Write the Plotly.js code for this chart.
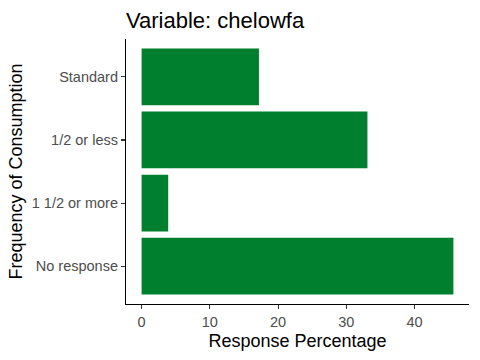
<!DOCTYPE html>
<html>
<head>
<meta charset="utf-8">
<script src="https://cdn.plot.ly/plotly-3.0.1.min.js"></script>
<style>html,body{margin:0;padding:0;background:#fff;}#chart{width:480px;height:360px;}</style>
</head>
<body>
<div id="chart"></div>
<script>
const categories = ["Standard", "1/2 or less", "1 1/2 or more", "No response"];
const percentages = [17.2, 33.1, 3.9, 45.7];
const xTicks = [0, 10, 20, 30, 40];

const FONT = "Liberation Sans, Arial, sans-serif";
const maxVal = Math.max(...percentages);
const pad = maxVal * 0.05;

const trace = {
  type: "bar",
  orientation: "h",
  x: percentages,
  y: categories,
  width: 0.9,
  marker: {color: "#00802F", line: {width: 0}},
  hoverinfo: "x+y"
};

const layout = {
  width: 480, height: 360,
  margin: {l: 126, r: 11, t: 39, b: 56, pad: 0},
  paper_bgcolor: "#ffffff",
  plot_bgcolor: "#ffffff",
  showlegend: false,
  font: {family: FONT, color: "#000"},
  title: {
    text: "Variable: chelowfa",
    font: {family: FONT, size: 22, color: "#000"},
    x: 126/480, xanchor: "left", xref: "container",
    y: 1 - 20/360, yref: "container", yanchor: "middle"
  },
  xaxis: {
    range: [-pad, maxVal + pad],
    tickvals: xTicks,
    ticktext: xTicks.map(String),
    showgrid: false, zeroline: false,
    showline: true, linecolor: "#000", linewidth: 1.1,
    ticks: "outside", ticklen: 4, tickcolor: "#333", tickwidth: 1.1,
    tickfont: {family: FONT, size: 14.5, color: "#4D4D4D"},
    title: {text: "Response Percentage", font: {family: FONT, size: 18, color: "#000"}, standoff: 5},
    fixedrange: true
  },
  yaxis: {
    type: "category",
    categoryorder: "array",
    categoryarray: categories,
    range: [3.6, -0.6],
    showgrid: false, zeroline: false,
    showline: true, linecolor: "#000", linewidth: 1.1,
    ticks: "outside", ticklen: 4, tickcolor: "#333", tickwidth: 1.1,
    tickfont: {family: FONT, size: 14.5, color: "#4D4D4D"},
    title: {text: "Frequency of Consumption", font: {family: FONT, size: 18, color: "#000"}, standoff: 4},
    fixedrange: true
  },
  bargap: 0.1
};

Plotly.newPlot("chart", [trace], layout, {displayModeBar: false, staticPlot: true});
</script>
</body>
</html>
